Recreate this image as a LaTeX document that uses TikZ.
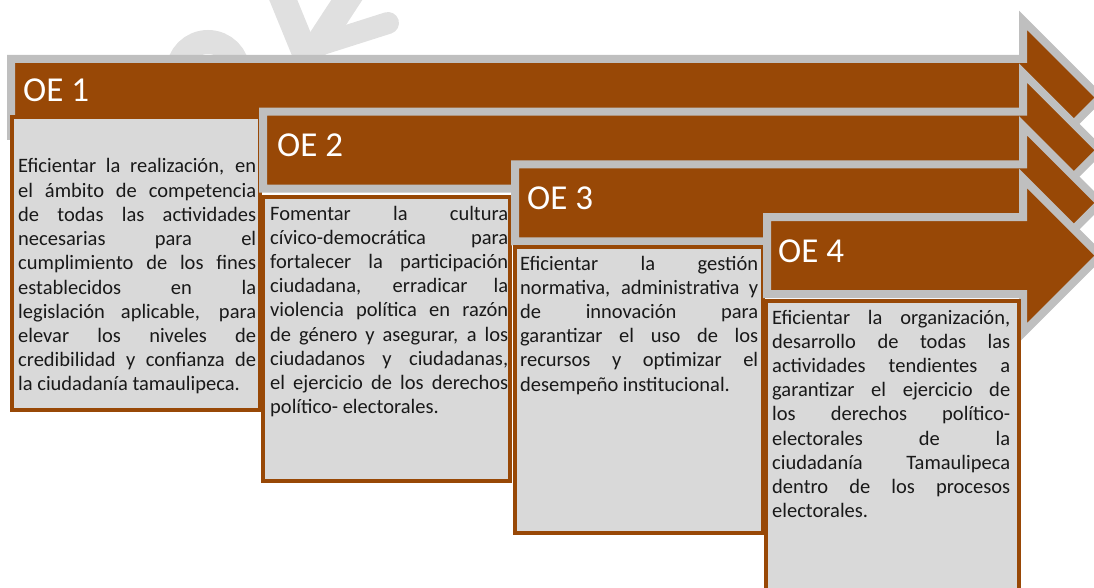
\documentclass[tikz,border=0pt]{standalone}
\usepackage{fontspec}
\setmainfont{Carlito}
\usepackage{tikz}
\definecolor{OEBrown}{RGB}{152,72,6}
\definecolor{OEGray}{RGB}{191,191,191}
\definecolor{OEFill}{RGB}{217,217,217}
\definecolor{SelloGray}{RGB}{224,224,224}
\tikzset{oearrow/.style={draw=OEGray,fill=OEBrown,line width=8pt}, oebox/.style={draw=OEBrown,fill=OEFill,line width=4pt}, oelab/.style={anchor=base west,inner sep=0pt,text=white,font=\fontsize{35}{40}\selectfont}, oetext/.style={anchor=base west,inner sep=0pt,text width=238pt,align=justify,text=black!90,font=\fontsize{20.5}{24.2}\selectfont,execute at begin node={\hyphenpenalty=10000\exhyphenpenalty=10000\tolerance=10000}}, sello/.style={draw=SelloGray,line width=26pt,line cap=round}}

\begin{document}
\begin{tikzpicture}[x=1pt,y=-1pt]
\useasboundingbox (0,0) rectangle (1094,588);
\clip (0,0) rectangle (1094,588);
% sello de fondo
\draw[sello,line width=24pt] (208,72) circle (30);
\draw[sello] (280,-8) -- (307,58);
\draw[sello] (318,44) -- (352,-8);
\draw[sello,line width=22pt] (322,44) -- (388,23);
% OE 1
\draw[oearrow] (11,59) -- (1023,59) -- (1023,20.3) -- (1100.2,97.5) -- (1023,174.7) -- (1023,136) -- (11,136) -- cycle;
\draw[oebox] (12,117) rectangle (260,410);
% OE 2
\draw[oearrow] (263,111.7) -- (1023,111.7) -- (1023,73) -- (1100.2,150.2) -- (1023,227.4) -- (1023,188.7) -- (263,188.7) -- cycle;
\draw[oebox] (263,197) rectangle (510,481);
% OE 3
\draw[oearrow] (515,164.4) -- (1023,164.4) -- (1023,125.7) -- (1100.2,202.9) -- (1023,280.1) -- (1023,241.4) -- (515,241.4) -- cycle;
\draw[oebox] (515,247) rectangle (763,533);
% OE 4
\draw[oearrow] (767,217.1) -- (1023,217.1) -- (1023,178.4) -- (1100.2,255.6) -- (1023,332.8) -- (1023,294.1) -- (767,294.1) -- cycle;
\draw[oebox] (766,301) rectangle (1019,620);
% titulos
\node[oelab] (oe1) at (23,102) {OE 1};
\node[oelab] (oe2) at (277,157) {OE 2};
\node[oelab] (oe3) at (527,209) {OE 3};
\node[oelab] (oe4) at (778,262) {OE 4};
% textos
\node[oetext] (txt1) at (18,173) {Eficientar la realización, en\linebreak el ámbito de competencia\linebreak de todas las actividades\linebreak necesarias para el\linebreak cumplimiento de los fines\linebreak establecidos en la\linebreak legislación aplicable, para\linebreak elevar los niveles de\linebreak credibilidad y confianza de\linebreak la ciudadanía tamaulipeca.};
\node[oetext] (txt2) at (270,220) {Fomentar la cultura\linebreak cívico-democrática para\linebreak fortalecer la participación\linebreak ciudadana, erradicar la\linebreak violencia política en razón\linebreak de género y asegurar, a los\linebreak ciudadanos y ciudadanas,\linebreak el ejercicio de los derechos\linebreak político- electorales.};
\node[oetext] (txt3) at (520,270) {Eficientar la gestión\linebreak normativa, administrativa y\linebreak de innovación para\linebreak garantizar el uso de los\linebreak recursos y optimizar el\linebreak desempeño institucional.};
\node[oetext] (txt4) at (772,324) {Eficientar la organización,\linebreak desarrollo de todas las\linebreak actividades tendientes a\linebreak garantizar el ejercicio de\linebreak los derechos político-\linebreak electorales de la\linebreak ciudadanía Tamaulipeca\linebreak dentro de los procesos\linebreak electorales.};
\end{tikzpicture}
\end{document}
